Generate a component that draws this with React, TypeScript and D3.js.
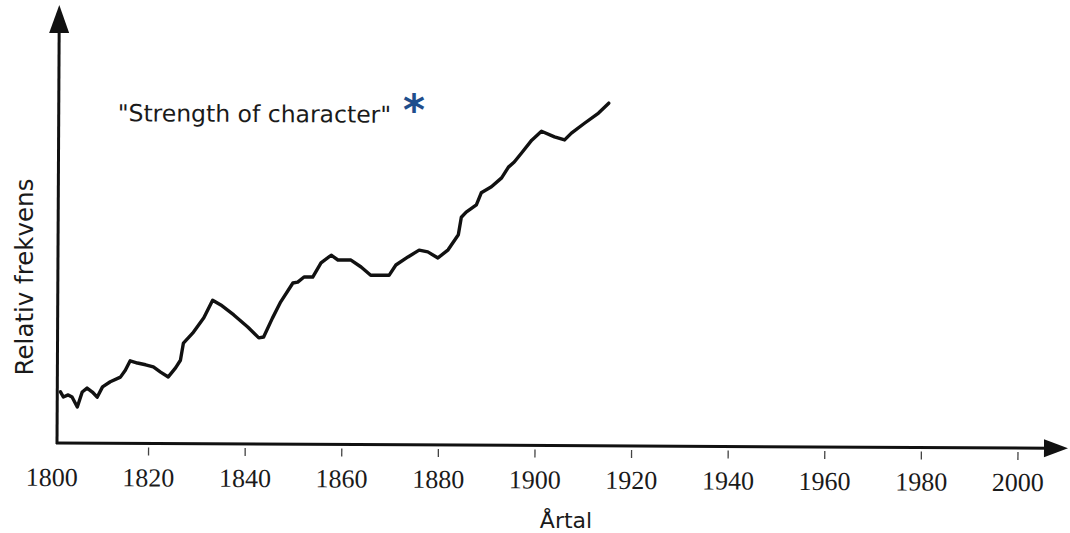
import React from "react";
import * as d3 from "d3";

const years = [
  1801.7, 1802.3, 1803.3, 1804.1, 1805.2, 1806.2, 1807.2, 1808.3, 1809.3, 1810.4,
  1812.0, 1814.1, 1815.1, 1816.1, 1817.6, 1819.3, 1820.9, 1822.4, 1824.0, 1825.5,
  1826.5, 1827.1, 1829.0, 1831.3, 1833.1, 1834.8, 1837.5, 1840.4, 1842.7, 1843.7,
  1845.5, 1847.2, 1849.7, 1850.7, 1852.0, 1853.8, 1855.5, 1857.6, 1859.0, 1861.7,
  1863.8, 1865.8, 1869.6, 1871.0, 1873.5, 1875.8, 1877.6, 1879.7, 1881.8, 1883.9,
  1884.5, 1885.5, 1887.6, 1888.6, 1890.7, 1892.8, 1894.2, 1895.4, 1896.9, 1899.0,
  1901.0, 1903.7, 1905.8, 1907.2, 1909.9, 1912.8, 1914.9,
];
const frequency = [
  1.19, 1.07, 1.12, 1.07, 0.84, 1.19, 1.28, 1.19, 1.07, 1.31,
  1.43, 1.54, 1.70, 1.92, 1.87, 1.83, 1.78, 1.66, 1.55, 1.76,
  1.94, 2.34, 2.57, 2.93, 3.34, 3.23, 3.00, 2.72, 2.47, 2.49,
  2.93, 3.31, 3.75, 3.77, 3.89, 3.89, 4.22, 4.40, 4.29, 4.29,
  4.13, 3.94, 3.94, 4.18, 4.37, 4.53, 4.49, 4.35, 4.54, 4.89,
  5.30, 5.42, 5.59, 5.87, 6.01, 6.22, 6.47, 6.59, 6.80, 7.10,
  7.31, 7.18, 7.11, 7.27, 7.50, 7.74, 7.97,
];
const tickYears = [1800, 1820, 1840, 1860, 1880, 1900, 1920, 1940, 1960, 1980, 2000];
const title = '"Strength of character"';
const xLabel = "Årtal";
const yLabel = "Relativ frekvens";

export default function App() {
  const x = d3.scaleLinear().domain([1800, 2000]).range([52, 1018]);
  const y = d3.scaleLinear().domain([0, 10]).range([443, 13]);
  const data = years.map((yr, i) => ({ yr, v: frequency[i] }));
  const line = d3
    .line<{ yr: number; v: number }>()
    .x((d) => x(d.yr))
    .y((d) => y(d.v))
    .curve(d3.curveLinear);

  const axisX0 = 57;
  const axisY0 = y(0);

  return (
    <svg
      width={1070}
      height={533}
      style={{ position: "absolute", left: 0, top: 0, background: "#fff" }}
    >
      <g transform={`rotate(0.3, ${axisX0}, ${axisY0})`}>
        {/* y axis */}
        <line x1={axisX0} y1={axisY0 + 1} x2={axisX0} y2={30} stroke="#111" strokeWidth={3} />
        <path
          d={`M${axisX0},5 L${axisX0 - 10},33 L${axisX0 + 10},33 Z`}
          fill="#111"
        />
        {/* x axis */}
        <line x1={axisX0 - 1} y1={axisY0} x2={1050} y2={axisY0} stroke="#111" strokeWidth={3} />
        <path
          d={`M1068,${axisY0} L1044,${axisY0 - 9} L1044,${axisY0 + 9} Z`}
          fill="#111"
        />
        {/* ticks */}
        {tickYears
          .filter((t) => t !== 1800)
          .map((t) => (
            <line
              key={"t" + t}
              x1={x(t)}
              x2={x(t)}
              y1={axisY0 + 4}
              y2={axisY0 + 12}
              stroke="#444"
              strokeWidth={1.3}
            />
          ))}
        {tickYears.map((t) => (
          <text
            key={"l" + t}
            x={x(t)}
            y={486}
            textAnchor="middle"
            fontFamily="'Liberation Serif', 'DejaVu Serif', serif"
            fontSize={26}
            fill="#1a1a1a"
          >
            {t}
          </text>
        ))}
        {/* data line */}
        <path
          d={line(data) || ""}
          fill="none"
          stroke="#111"
          strokeWidth={3.4}
          strokeLinejoin="round"
          strokeLinecap="round"
        />
        {/* title */}
        <text
          x={116}
          y={121}
          fontFamily="'DejaVu Sans', sans-serif"
          fontSize={23.5}
          fill="#1a1a1a"
        >
          {title}
        </text>
      </g>
      {/* asterisk */}
      <text
        x={414}
        y={125}
        textAnchor="middle"
        fontFamily="'DejaVu Sans', sans-serif"
        fontWeight="bold"
        fontSize={42}
        fill="#1F4E8C"
      >
        *
      </text>
      {/* axis labels */}
      <text
        transform="translate(33, 277) rotate(-90)"
        textAnchor="middle"
        fontFamily="'DejaVu Sans', sans-serif"
        fontSize={24.5}
        fill="#1a1a1a"
      >
        {yLabel}
      </text>
      <text
        x={566}
        y={528}
        textAnchor="middle"
        fontFamily="'DejaVu Sans', sans-serif"
        fontSize={22}
        fill="#1a1a1a"
      >
        {xLabel}
      </text>
    </svg>
  );
}
